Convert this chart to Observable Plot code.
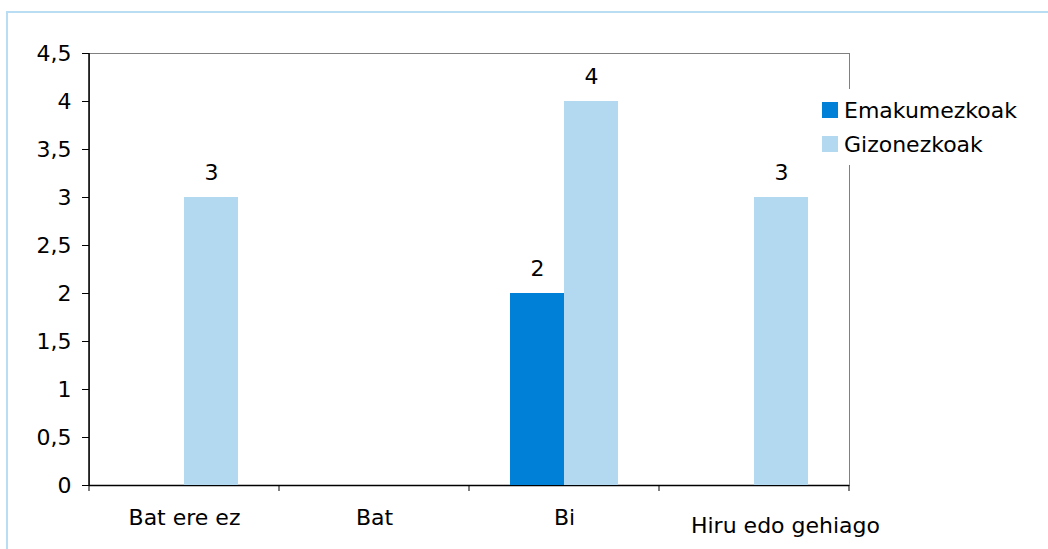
<!DOCTYPE html>
<html>
<head>
<meta charset="utf-8">
<script src="https://cdn.jsdelivr.net/npm/d3@7"></script>
<script src="https://cdn.jsdelivr.net/npm/@observablehq/plot@0.6"></script>
<style>
  html, body { margin: 0; padding: 0; background: #fff; overflow: hidden; }
  body { width: 1048px; height: 549px; position: relative; font-family: "DejaVu Sans", Verdana, sans-serif; }
  #border { position: absolute; left: 6px; top: 11px; width: 1100px; height: 600px; border: 2px solid #b9ddf3; box-sizing: border-box; }
  #chart { position: absolute; left: 0; top: 0; width: 1048px; height: 549px; }
  #chart svg { position: absolute; left: 0; top: 0; overflow: visible; max-width: none; }
  #legend { position: absolute; left: 817px; top: 89px; background: #fff; padding: 4px 6px 4px 5px; font-size: 22px; color: #000; }
  .item { display: flex; align-items: center; height: 34px; }
  .sw { width: 16px; height: 16px; margin-right: 6px; }
</style>
</head>
<body>
<div id="border"></div>
<div id="chart"></div>
<div id="legend"></div>
<script>
const categories = ["Bat ere ez", "Bat", "Bi", "Hiru edo gehiago"];
const series = ["Emakumezkoak", "Gizonezkoak"];
const emakumezkoak = [null, null, 2, null];
const gizonezkoak = [3, null, 4, 3];
const yTicks = [0, 0.5, 1, 1.5, 2, 2.5, 3, 3.5, 4, 4.5];
const colors = ["#0080d6", "#b3d9f1"];

const data = [];
categories.forEach((c, i) => {
  if (emakumezkoak[i] != null) data.push({category: c, series: series[0], value: emakumezkoak[i]});
  if (gizonezkoak[i] != null) data.push({category: c, series: series[1], value: gizonezkoak[i]});
});

const fmt = v => String(v).replace(".", ",");
const font = "DejaVu Sans, Verdana, sans-serif";
const FS = 22;

const common = {
  width: 1048,
  height: 549,
  marginLeft: 89,
  marginRight: 199,
  marginTop: 53,
  marginBottom: 64,
  style: {fontFamily: font, fontSize: FS + "px", color: "#000", background: "transparent"}
};

// Category boundary ticks and the black left axis line, placed from the scales
const axisLines = (index, scales, values, dims) => {
  const x = scales.x;
  const bw = x.bandwidth();
  const pos = categories.map(c => x(c)).concat([x(categories[categories.length - 1]) + bw]);
  const yb = dims.height - dims.marginBottom;
  const g = d3.create("svg:g").attr("stroke", "#000");
  g.append("line").attr("x1", pos[0]).attr("x2", pos[0])
    .attr("y1", dims.marginTop).attr("y2", yb).attr("stroke-width", 1.5);
  pos.forEach(p => g.append("line")
    .attr("x1", p).attr("x2", p).attr("y1", yb).attr("y2", yb + 6)
    .attr("stroke-width", 1));
  return g.node();
};

const chart = document.getElementById("chart");

const axisPlot = Plot.plot({
  ...common,
  x: {type: "band", domain: categories, padding: 0, axis: null},
  y: {domain: [0, 4.5]},
  marks: [
    Plot.frame({stroke: "#808080", strokeWidth: 1}),
    Plot.axisY({ticks: yTicks, tickFormat: fmt, tickSize: 7, tickPadding: 11, fontSize: FS, label: null}),
    Plot.ruleY([0], {stroke: "#000", strokeWidth: 1.5}),
    axisLines,
    Plot.text(categories.slice(0, 3), {x: d => d, frameAnchor: "bottom", dy: 39, fontSize: FS, fill: "#000", lineAnchor: "bottom"}),
    Plot.text(categories.slice(3), {x: d => d, frameAnchor: "bottom", dy: 47, dx: 31, fontSize: FS, fill: "#000", lineAnchor: "bottom"})
  ]
});
chart.appendChild(axisPlot);

const barPlot = Plot.plot({
  ...common,
  fx: {domain: categories, padding: 0, axis: null},
  x: {domain: series, paddingInner: 0, paddingOuter: 0.74, axis: null},
  y: {domain: [0, 4.5], axis: null},
  color: {domain: series, range: colors},
  marks: [
    Plot.barY(data, {fx: "category", x: "series", y: "value", fill: "series"}),
    Plot.text(data, {fx: "category", x: "series", y: "value", text: d => fmt(d.value), dy: -25, fontSize: FS, fill: "#000"})
  ]
});
chart.appendChild(barPlot);

const legend = document.getElementById("legend");
series.forEach((s, i) => {
  const it = document.createElement("div");
  it.className = "item";
  const sw = document.createElement("div");
  sw.className = "sw";
  sw.style.background = colors[i];
  const t = document.createElement("span");
  t.textContent = s;
  it.appendChild(sw);
  it.appendChild(t);
  legend.appendChild(it);
});
</script>
</body>
</html>
